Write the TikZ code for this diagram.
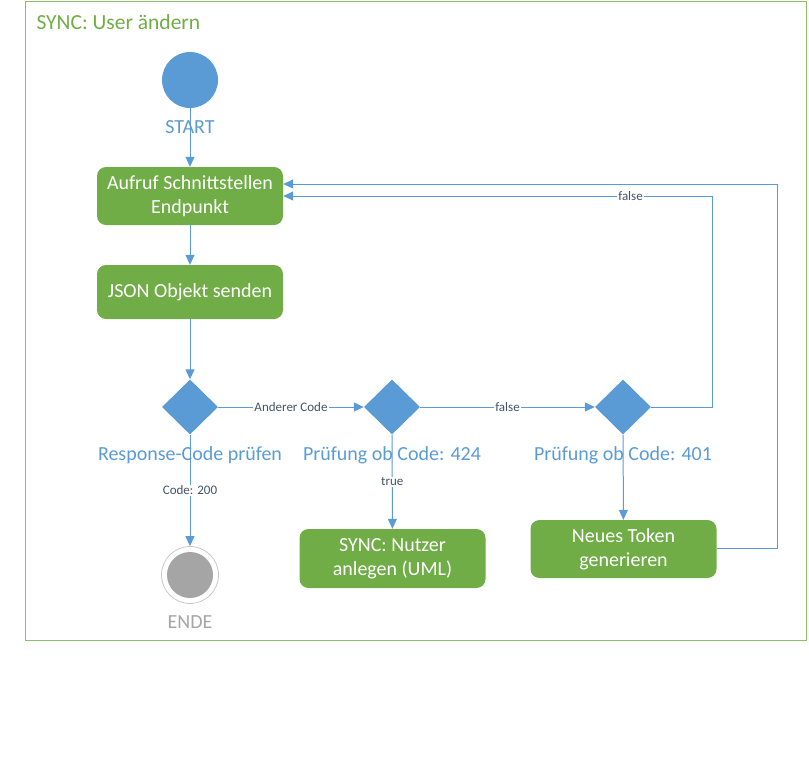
\documentclass[tikz,border=0pt]{standalone}
\usepackage{fontspec}
\setmainfont{Carlito}
\usetikzlibrary{shapes.geometric,arrows.meta}
\definecolor{flowblue}{HTML}{5B9BD5}
\definecolor{flowgreen}{HTML}{70AD47}
\definecolor{framegreen}{HTML}{8CC068}
\definecolor{labelink}{HTML}{44546A}
\definecolor{endgray}{HTML}{A5A5A5}
\tikzset{
  actionbox/.style={draw=none, fill=flowgreen, rounded corners=9pt, minimum width=186pt,
    text=white, font=\fontsize{20}{24}\selectfont, align=center, inner sep=0pt},
  decision/.style={diamond, fill=flowblue, draw=none, minimum width=56pt, minimum height=55pt, inner sep=0pt},
  caption/.style={text=flowblue, font=\fontsize{20}{24}\selectfont},
  flow/.style={draw=flowblue, line width=1pt, -{Triangle[length=10pt,width=9pt]}},
  flowlabel/.style={fill=white, text=labelink, font=\fontsize{13}{15}\selectfont, inner sep=1pt},
}
\begin{document}
\begin{tikzpicture}[x=1pt,y=-1pt]
\useasboundingbox (0,0) rectangle (809,777);
% swimlane frame
\draw[framegreen, line width=1pt] (25,1) rectangle (806,640);
\node[anchor=west, text=flowgreen, font=\fontsize{21.5}{25}\selectfont] (title) at (33,22) {SYNC: User ändern};

% start and end
\node[circle, fill=flowblue, minimum size=56pt, inner sep=0pt] (start) at (190,80) {};
\node[caption] (startlbl) at (190,127) {START};
\node[circle, draw=endgray!60, fill=white, line width=0.8pt, minimum size=57pt, inner sep=0pt] (ende) at (190,575) {};
\node[circle, fill=endgray, minimum size=46pt, inner sep=0pt] (endeinner) at (190,575) {};
\node[text=endgray, font=\fontsize{20}{24}\selectfont] (endelbl) at (190,622) {ENDE};

% actions
\node[actionbox, minimum height=58pt] (aufruf) at (190,196) {Aufruf Schnittstellen\\Endpunkt};
\node[actionbox, minimum height=54pt] (json) at (190,292) {JSON Objekt senden};
\node[actionbox, minimum height=59pt] (nutzer) at (392.5,558.5) {SYNC: Nutzer\\anlegen (UML)};
\node[actionbox, minimum height=58pt] (token) at (623.5,549) {Neues Token\\generieren};

% decisions
\node[decision] (resp) at (190,407) {};
\node[decision] (c424) at (392,407) {};
\node[decision] (c401) at (623,407) {};
\node[caption] (resplbl) at (190,455) {Response-Code prüfen};
\node[caption] (c424lbl) at (392,455) {Prüfung ob Code: 424};
\node[caption] (c401lbl) at (623,455) {Prüfung ob Code: 401};

% connectors
\draw[flow] (start) -- (aufruf);
\draw[flow] (aufruf) -- (json);
\draw[flow] (json) -- (resp);
\draw[flow] (resp) -- node[flowlabel] {Anderer Code} (c424);
\draw[flow] (c424) -- node[flowlabel] {false} (c401);
\draw[flow] (resp) -- node[flowlabel, pos=0.5] {Code: 200} (ende);
\draw[flow] (c424) -- node[flowlabel, pos=0.5] {true} (nutzer);
\draw[flow] (c401) -- (token);
\coordinate (loopa1) at (712,407);
\coordinate (loopa2) at (712,196);
\draw[flow] (c401.east) -- (loopa1) -- (loopa2) -- node[flowlabel, pos=0.19] {false} (aufruf.east |- loopa2);
\coordinate (loopb1) at (777,548);
\coordinate (loopb2) at (777,184);
\draw[flow] (token.east |- loopb1) -- (loopb1) -- (loopb2) -- (aufruf.east |- loopb2);
\end{tikzpicture}
\end{document}
